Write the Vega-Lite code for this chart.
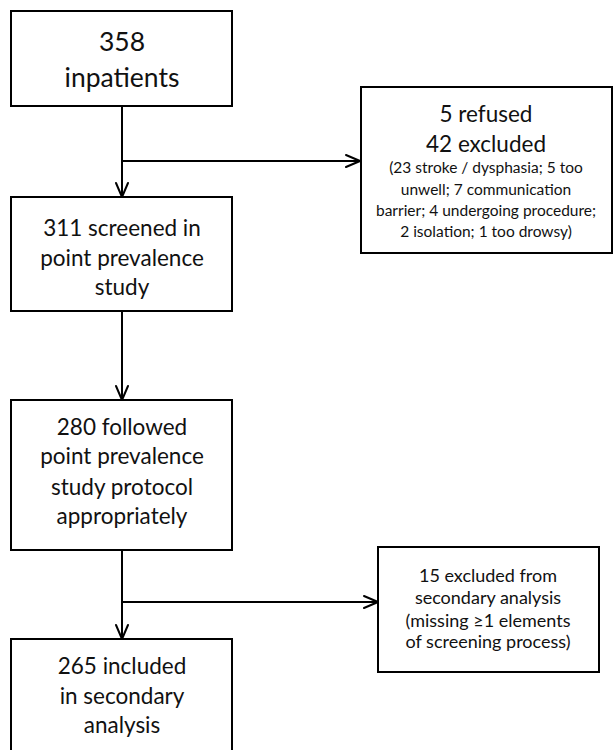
{
  "$schema": "https://vega.github.io/schema/vega-lite/v6.json",
  "width": 614,
  "height": 750,
  "autosize": {"type": "fit", "contains": "padding"},
  "padding": 0,
  "background": "white",
  "config": {"view": {"stroke": null}, "axis": {"disable": true}},
  "datasets": {
    "boxes": [
      {"box": "inpatients", "x1": 11, "x2": 232, "y1": 11, "y2": 106},
      {"box": "screened", "x1": 11, "x2": 232, "y1": 197, "y2": 311},
      {"box": "followed", "x1": 11, "x2": 232, "y1": 400, "y2": 550},
      {"box": "included", "x1": 11, "x2": 232, "y1": 639, "y2": 775},
      {"box": "refused", "x1": 361, "x2": 612, "y1": 87, "y2": 253},
      {"box": "excluded2", "x1": 378, "x2": 599, "y1": 547, "y2": 672}
    ],
    "links": [
      {"x1": 122, "y1": 106, "x2": 122, "y2": 197},
      {"x1": 122, "y1": 161, "x2": 360, "y2": 161},
      {"x1": 122, "y1": 311, "x2": 122, "y2": 400},
      {"x1": 122, "y1": 550, "x2": 122, "y2": 639},
      {"x1": 122, "y1": 602, "x2": 378, "y2": 602},
      {"x1": 116, "y1": 183, "x2": 122, "y2": 197},
      {"x1": 128, "y1": 183, "x2": 122, "y2": 197},
      {"x1": 346, "y1": 155, "x2": 360, "y2": 161},
      {"x1": 346, "y1": 167, "x2": 360, "y2": 161},
      {"x1": 116, "y1": 386, "x2": 122, "y2": 400},
      {"x1": 128, "y1": 386, "x2": 122, "y2": 400},
      {"x1": 116, "y1": 625, "x2": 122, "y2": 639},
      {"x1": 128, "y1": 625, "x2": 122, "y2": 639},
      {"x1": 364, "y1": 596, "x2": 378, "y2": 602},
      {"x1": 364, "y1": 608, "x2": 378, "y2": 602}
    ],
    "labels": [
      {"level": "top", "x": 122, "y": 43, "text": "358"},
      {"level": "top", "x": 122, "y": 79, "text": "inpatients"},
      {"level": "main", "x": 122, "y": 229, "text": "311 screened in"},
      {"level": "main", "x": 122, "y": 259, "text": "point prevalence"},
      {"level": "main", "x": 122, "y": 288, "text": "study"},
      {"level": "main", "x": 122, "y": 428, "text": "280 followed"},
      {"level": "main", "x": 122, "y": 457, "text": "point prevalence"},
      {"level": "main", "x": 122, "y": 488, "text": "study protocol"},
      {"level": "main", "x": 122, "y": 517, "text": "appropriately"},
      {"level": "main", "x": 122, "y": 667, "text": "265 included"},
      {"level": "main", "x": 122, "y": 697, "text": "in secondary"},
      {"level": "main", "x": 122, "y": 726, "text": "analysis"},
      {"level": "main", "x": 486, "y": 115, "text": "5 refused"},
      {"level": "main", "x": 486, "y": 145, "text": "42 excluded"},
      {"level": "detail", "x": 486, "y": 168, "text": "(23 stroke / dysphasia; 5 too"},
      {"level": "detail", "x": 486, "y": 190, "text": "unwell; 7 communication"},
      {"level": "detail", "x": 486, "y": 211, "text": "barrier; 4 undergoing procedure;"},
      {"level": "detail", "x": 486, "y": 232, "text": "2 isolation; 1 too drowsy)"},
      {"level": "note", "x": 488, "y": 577, "text": "15 excluded from"},
      {"level": "note", "x": 488, "y": 599, "text": "secondary analysis"},
      {"level": "note", "x": 488, "y": 622, "text": "(missing ≥1  elements"},
      {"level": "note", "x": 488, "y": 643, "text": "of screening process)"}
    ]
  },
  "layer": [
    {
      "data": {"name": "boxes"},
      "mark": {"type": "rect", "fill": "white", "stroke": "black", "strokeWidth": 2, "clip": true},
      "encoding": {
        "x": {"field": "x1", "type": "quantitative", "scale": {"domain": [0, 614], "nice": false, "zero": false}},
        "x2": {"field": "x2"},
        "y": {"field": "y1", "type": "quantitative", "scale": {"domain": [0, 750], "nice": false, "zero": false, "reverse": true}},
        "y2": {"field": "y2"}
      }
    },
    {
      "data": {"name": "links"},
      "mark": {"type": "rule", "color": "black", "strokeWidth": 2, "strokeCap": "round"},
      "encoding": {
        "x": {"field": "x1", "type": "quantitative"},
        "x2": {"field": "x2"},
        "y": {"field": "y1", "type": "quantitative"},
        "y2": {"field": "y2"}
      }
    },
    {
      "data": {"name": "labels"},
      "transform": [{"filter": "datum.level === 'top'"}],
      "mark": {"type": "text", "font": "Lato", "fontSize": 26.5, "color": "#111", "align": "center", "baseline": "middle"},
      "encoding": {
        "x": {"field": "x", "type": "quantitative"},
        "y": {"field": "y", "type": "quantitative"},
        "text": {"field": "text"}
      }
    },
    {
      "data": {"name": "labels"},
      "transform": [{"filter": "datum.level === 'main'"}],
      "mark": {"type": "text", "font": "Lato", "fontSize": 22.5, "color": "#111", "align": "center", "baseline": "middle"},
      "encoding": {
        "x": {"field": "x", "type": "quantitative"},
        "y": {"field": "y", "type": "quantitative"},
        "text": {"field": "text"}
      }
    },
    {
      "data": {"name": "labels"},
      "transform": [{"filter": "datum.level === 'detail'"}],
      "mark": {"type": "text", "font": "Lato", "fontSize": 15.5, "color": "#111", "align": "center", "baseline": "middle"},
      "encoding": {
        "x": {"field": "x", "type": "quantitative"},
        "y": {"field": "y", "type": "quantitative"},
        "text": {"field": "text"}
      }
    },
    {
      "data": {"name": "labels"},
      "transform": [{"filter": "datum.level === 'note'"}],
      "mark": {"type": "text", "font": "Lato", "fontSize": 18, "color": "#111", "align": "center", "baseline": "middle"},
      "encoding": {
        "x": {"field": "x", "type": "quantitative"},
        "y": {"field": "y", "type": "quantitative"},
        "text": {"field": "text"}
      }
    }
  ]
}
